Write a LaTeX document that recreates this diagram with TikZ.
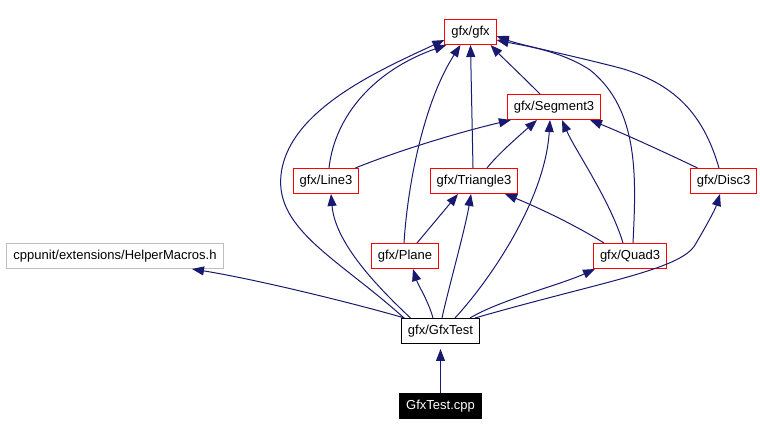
\documentclass[tikz,border=0pt]{standalone}
\usepackage{fontspec}
\setmainfont{Liberation Sans}
\usepackage{tikz}
\usetikzlibrary{arrows.meta}

\definecolor{edgeblue}{HTML}{191970}
\definecolor{boxred}{HTML}{FF0000}
\definecolor{boxgray}{HTML}{BFBFBF}

\begin{document}
\begin{tikzpicture}[x=1pt, y=-1pt,
  file/.style={draw=boxred, line width=1pt, inner xsep=6.5pt, inner ysep=0pt,
    minimum height=25pt, font=\fontsize{13}{15}\selectfont},
  dep/.style={draw=edgeblue, line width=1pt,
    -{Triangle[length=12pt, width=9pt]}}]

\useasboundingbox (0,0) rectangle (760,435);

\node[file] (gfx) at (470.5, 32) {gfx/gfx};
\node[file] (seg) at (554, 107) {gfx/Segment3};
\node[file] (line) at (326, 181) {gfx/Line3};
\node[file] (tri) at (474, 181) {gfx/Triangle3};
\node[file] (disc) at (723.5, 181) {gfx/Disc3};
\node[file, draw=boxgray] (cpp) at (115, 256) {cppunit/extensions/HelperMacros.h};
\node[file] (plane) at (405, 256) {gfx/Plane};
\node[file] (quad) at (630, 256) {gfx/Quad3};
\node[file, draw=black] (test) at (440.5, 331) {gfx/GfxTest};
\node[file, draw=black, fill=black, text=white] (src) at (440.5, 406) {GfxTest.cpp};

\draw[dep, shorten >=5pt] (src) -- (test);

\draw[dep] ([xshift=-36pt]test.north) .. controls (360,305) and (260,280) .. ([xshift=77pt]cpp.south);
\draw[dep] ([xshift=-30pt]test.north) .. controls (370,280) and (335,240) .. ([xshift=5pt]line.south);
\draw[dep] ([xshift=-7.5pt]test.north) .. controls (428,300) and (418,285) .. ([xshift=8pt]plane.south);
\draw[dep] ([xshift=1.5pt]test.north) .. controls (448,290) and (465,230) .. ([xshift=-3pt]tri.south);
\draw[dep] ([xshift=14.5pt]test.north) .. controls (490,280) and (545,200) .. ([xshift=-4pt]seg.south);
\draw[dep] ([xshift=29.5pt]test.north) .. controls (500,300) and (560,285) .. ([xshift=-35pt]quad.south);
\draw[dep] ([xshift=34.5pt]test.north) .. controls (600,282) and (680,270) .. (695,245)
  .. controls (705,228) and (715,210) .. ([xshift=-3.5pt]disc.south);
\draw[dep] ([xshift=-36.5pt]test.north) .. controls (340,260) and (275,230) .. (281,175)
  .. controls (288,110) and (380,70) .. ([yshift=-8pt]gfx.west);

\draw[dep] ([xshift=3pt]line.north) .. controls (335,115) and (375,70) .. ([xshift=2pt]gfx.south west);
\draw[dep] ([xshift=-4pt]line.north east) .. controls (400,150) and (460,132) .. ([xshift=4pt]seg.south west);

\draw[dep] ([xshift=-1pt]plane.north) .. controls (408,180) and (425,100) .. ([xshift=-10pt]gfx.south);
\draw[dep] ([xshift=12pt]plane.north) -- ([xshift=-16pt]tri.south);

\draw[dep] ([xshift=-1pt]tri.north) -- (gfx.south);
\draw[dep] ([xshift=13pt]tri.north) .. controls (497,155) and (520,135) .. ([xshift=-17pt]seg.south);

\draw[dep] ([xshift=-14pt]seg.north) .. controls (522,76) and (502,57) .. ([xshift=20pt]gfx.south);

\draw[dep] ([xshift=-7pt]quad.north) .. controls (610,200) and (575,150) .. ([xshift=8pt]seg.south);
\draw[dep] ([xshift=-26pt]quad.north) .. controls (570,222) and (532,205) .. ([xshift=31pt]tri.south);
\draw[dep] ([xshift=3pt]quad.north) .. controls (636,180) and (640,110) .. (590,70)
  .. controls (560,50) and (520,45) .. ([yshift=-8pt]gfx.east);

\draw[dep] ([xshift=-26pt]disc.north) .. controls (660,150) and (620,132) .. ([xshift=36pt]seg.south);
\draw[dep] ([xshift=-4.5pt]disc.north) .. controls (705,120) and (680,85) .. (620,68)
  .. controls (570,55) and (520,45) .. ([yshift=-4pt]gfx.east);

\end{tikzpicture}
\end{document}
